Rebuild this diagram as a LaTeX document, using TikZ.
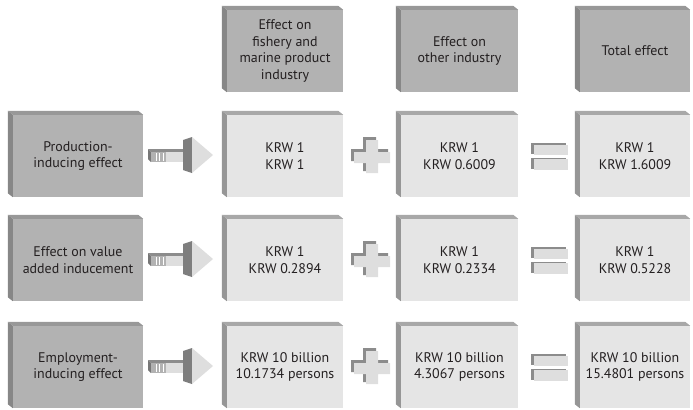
\documentclass[tikz,border=0pt]{standalone}
\usepackage{fontspec}
\setmainfont{PT Sans}
\usepackage{tikz}
\usetikzlibrary{calc}
\definecolor{facedark}{RGB}{178,178,178}
\definecolor{sidedark}{RGB}{135,135,135}
\definecolor{topdark}{RGB}{152,152,152}
\definecolor{facelight}{RGB}{229,229,229}
\definecolor{sidelight}{RGB}{150,150,150}
\definecolor{toplight}{RGB}{168,168,168}
\definecolor{symlight}{RGB}{222,222,222}
\definecolor{symdark}{RGB}{140,140,140}
\definecolor{inkgray}{RGB}{35,31,32}
\tikzset{
  headbox/.style={fill=facedark, inner sep=0pt, minimum height=82bp, align=center, text=inkgray},
  valbox/.style={fill=facelight, inner sep=0pt, minimum height=82bp, align=center, text=inkgray},
}

\begin{document}
\begin{tikzpicture}[x=1bp, y=-1bp, font=\fontsize{14}{16.5}\selectfont]
\useasboundingbox (0,0) rectangle (693,409);
% column heads
\node[headbox, minimum width=116bp] (hFish) at (285,51) {Effect on\\fishery and\\marine product\\industry};
\node[headbox, minimum width=117bp] (hOther) at (459.5,51) {Effect on\\other industry};
\node[headbox, minimum width=110bp] (hTotal) at (635,51) {Total effect};
% row heads
\node[headbox, minimum width=130bp] (lProd) at (78,156) {Production-\\inducing effect};
\node[headbox, minimum width=130bp] (lValue) at (78,260) {Effect on value\\added inducement};
\node[headbox, minimum width=130bp] (lEmpl) at (78,367) {Employment-\\inducing effect};
% values
\node[valbox, minimum width=116bp] (fish1) at (285,156) {KRW 1\\KRW 1};
\node[valbox, minimum width=117bp] (other1) at (459.5,156) {KRW 1\\KRW 0.6009};
\node[valbox, minimum width=110bp] (total1) at (635,156) {KRW 1\\KRW 1.6009};
\node[valbox, minimum width=116bp] (fish2) at (285,260) {KRW 1\\KRW 0.2894};
\node[valbox, minimum width=117bp] (other2) at (459.5,260) {KRW 1\\KRW 0.2334};
\node[valbox, minimum width=110bp] (total2) at (635,260) {KRW 1\\KRW 0.5228};
\node[valbox, minimum width=116bp] (fish3) at (285,367) {KRW 10 billion\\10.1734 persons};
\node[valbox, minimum width=117bp] (other3) at (459.5,367) {KRW 10 billion\\4.3067 persons};
\node[valbox, minimum width=110bp] (total3) at (635,367) {KRW 10 billion\\15.4801 persons};
% depth faces
\foreach \n in {hFish,hOther,hTotal,lProd,lValue,lEmpl} {
  \fill[sidedark] (\n.north west) -- ++(-5,-4) -- ($(\n.south west)+(-5,-4)$) -- (\n.south west) -- cycle;
  \fill[topdark] (\n.north west) -- ++(-5,-4) -- ($(\n.north east)+(-5,-4)$) -- (\n.north east) -- cycle;
}
\foreach \n in {fish1,other1,total1,fish2,other2,total2,fish3,other3,total3} {
  \fill[sidelight] (\n.north west) -- ++(-5,-4) -- ($(\n.south west)+(-5,-4)$) -- (\n.south west) -- cycle;
  \fill[toplight] (\n.north west) -- ++(-5,-4) -- ($(\n.north east)+(-5,-4)$) -- (\n.north east) -- cycle;
}
% arrow, plus and equals in each row
\foreach \y in {156,260,367} {
  \begin{scope}[shift={(0,\y)}]
    \fill[symdark] (148,-7) -- (190,-7) -- (193,-4) -- (151,-4) -- cycle;
    \fill[symdark!85!black] (148,-7) -- (151,-4) -- (151,6) -- (148,3) -- cycle;
    \fill[symlight] (151,-4) rectangle (193,6);
    \fill[gray!60] (151,-4) rectangle (166,6);
    \foreach \s in {156,159.5,163}
      \draw[white, line width=1bp] (\s,-3) -- (\s,5);
    \fill[symdark!90!black] (183,-16) -- (192,-19) -- (192,17) -- (183,14) -- cycle;
    \fill[symlight] (192,-19) -- (213,-1) -- (192,17) -- cycle;
    \fill[symdark] (363,-19) -- (376,-19) -- (376,-7) -- (388,-7) -- (388,5) -- (376,5) -- (376,15) -- (363,15) -- (363,5) -- (351,5) -- (351,-7) -- (363,-7) -- cycle;
    \fill[symlight] (366,-16) -- (378,-16) -- (378,-4) -- (390,-4) -- (390,7) -- (378,7) -- (378,17) -- (366,17) -- (366,7) -- (354,7) -- (354,-4) -- (366,-4) -- cycle;
    \fill[symdark] (531,-13) rectangle (566,-2);
    \fill[symdark] (531,2) rectangle (566,13);
    \fill[symlight] (534,-11) rectangle (568,-1);
    \fill[symlight] (534,3) rectangle (568,14);
  \end{scope}
}
\end{tikzpicture}
\end{document}
